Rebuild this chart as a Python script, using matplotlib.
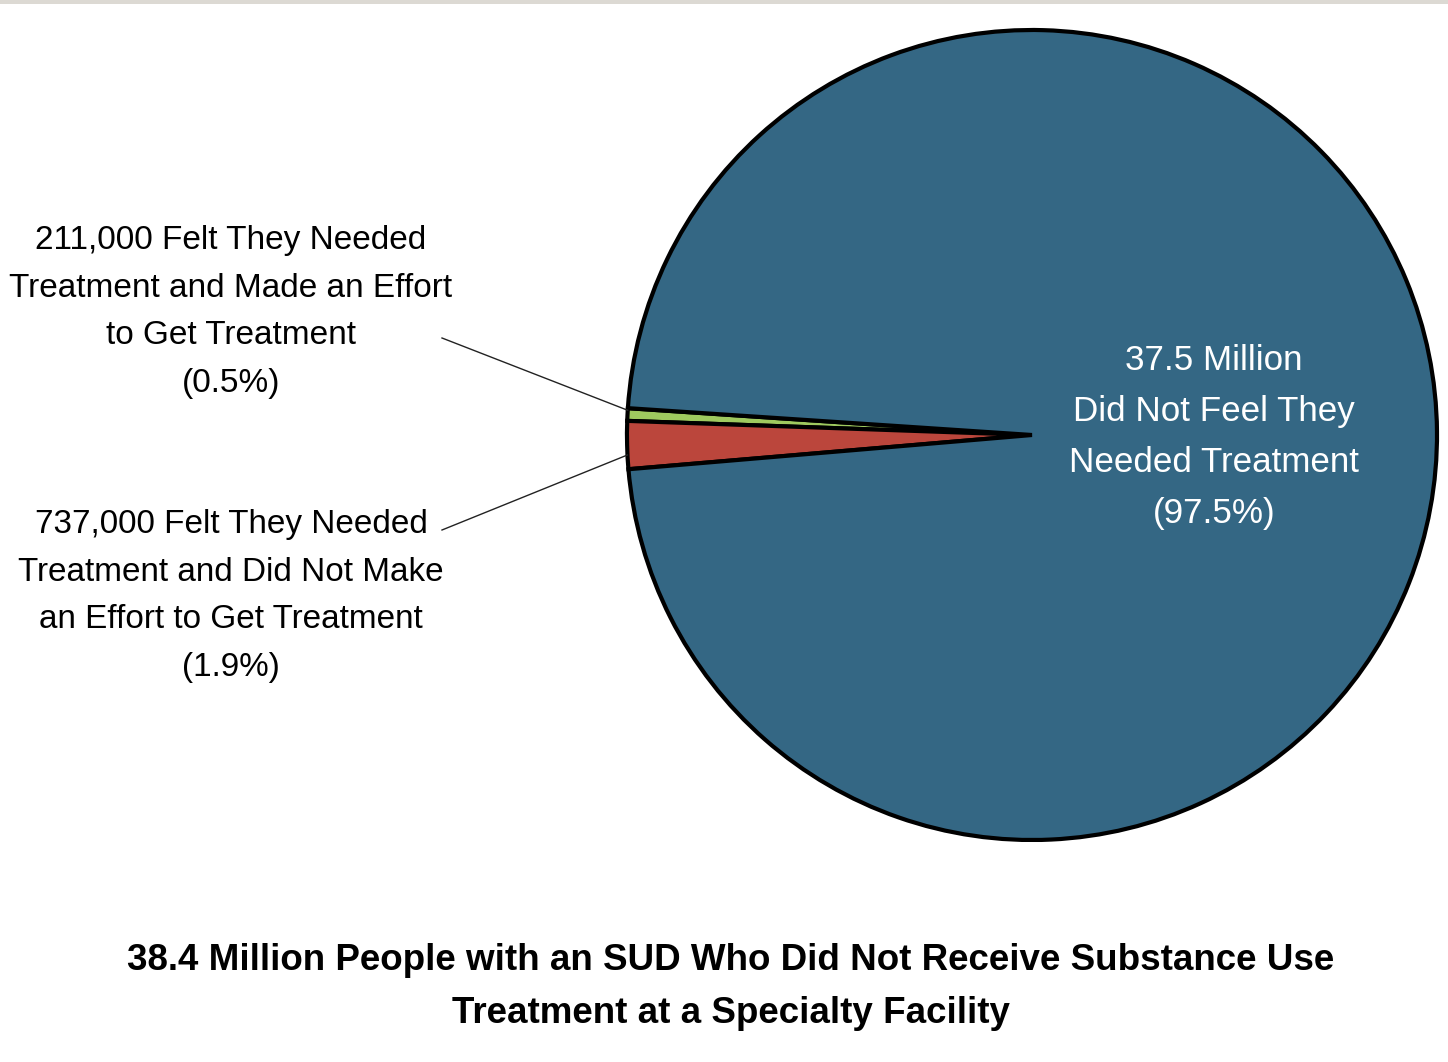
import numpy as np
import matplotlib
matplotlib.use("Agg")
import matplotlib.pyplot as plt
from matplotlib.patches import Rectangle

plt.rcParams['font.family'] = ['Liberation Sans', 'DejaVu Sans']

# Slice data: percentage of 38.4 million people with an SUD not receiving treatment
labels = [
    "211,000 Felt They Needed\nTreatment and Made an Effort\nto Get Treatment\n(0.5%)",
    "737,000 Felt They Needed\nTreatment and Did Not Make\nan Effort to Get Treatment\n(1.9%)",
    "37.5 Million\nDid Not Feel They\nNeeded Treatment\n(97.5%)",
]
shares = [0.5, 1.9, 97.5]
colors = ["#9fc95f", "#bb463c", "#346784"]
title = ("38.4 Million People with an SUD Who Did Not Receive Substance Use\n"
         "Treatment at a Specialty Facility")

W, H = 1448, 1062
CX, CY, R = 1032, H - 435, 405

fig = plt.figure(figsize=(W / 100, H / 100), dpi=100)
ax = fig.add_axes([0, 0, 1, 1])
wedges, _ = ax.pie(shares, colors=colors, startangle=176.2, counterclock=True,
                   center=(CX, CY), radius=R,
                   wedgeprops=dict(edgecolor="black", linewidth=3))
ax.set_xlim(0, W)
ax.set_ylim(0, H)
ax.set_aspect("equal")
ax.axis("off")

renderer = fig.canvas.get_renderer()


def fit_text(t, width_px, pitch_px):
    # scale font so the widest line matches the reference width,
    # then set line spacing to match the reference line pitch
    for _ in range(3):
        w = t.get_window_extent(renderer).width
        t.set_fontsize(t.get_fontsize() * width_px / w)
    t.set_linespacing(pitch_px / (t.get_fontsize() * 100 / 72 * 0.89))


# leader lines for the two thin slices
text_pos = [(231, H - 312), (231, H - 596)]
line_start = [(442, H - 338), (442, H - 530)]
end_offsets = [-0.6, 1.4]
widths = [443, 426]
for w, lab, tp, ls, off, wd in zip(wedges[:2], labels[:2], text_pos, line_start,
                                   end_offsets, widths):
    ang = np.deg2rad((w.theta1 + w.theta2) / 2 + off)
    end = (CX + R * np.cos(ang), CY + R * np.sin(ang))
    ax.plot([ls[0], end[0]], [ls[1], end[1]], color="#222222", lw=1)
    t = ax.text(tp[0], tp[1], lab, ha="center", va="center", fontsize=26,
                color="black")
    fit_text(t, wd, 50.5)

t = ax.text(1214, H - 437, labels[2], ha="center", va="center", fontsize=30,
            color="white")
fit_text(t, 290, 53)

t = ax.text(731, H - 987, title, ha="center", va="center", fontsize=33,
            fontweight="bold", color="black")
fit_text(t, 1202, 54)

fig.add_artist(Rectangle((0, 1 - 4 / H), 1, 4 / H, transform=fig.transFigure,
                         color="#dcd9d3", lw=0))

fig.savefig("out.png", dpi=100)
